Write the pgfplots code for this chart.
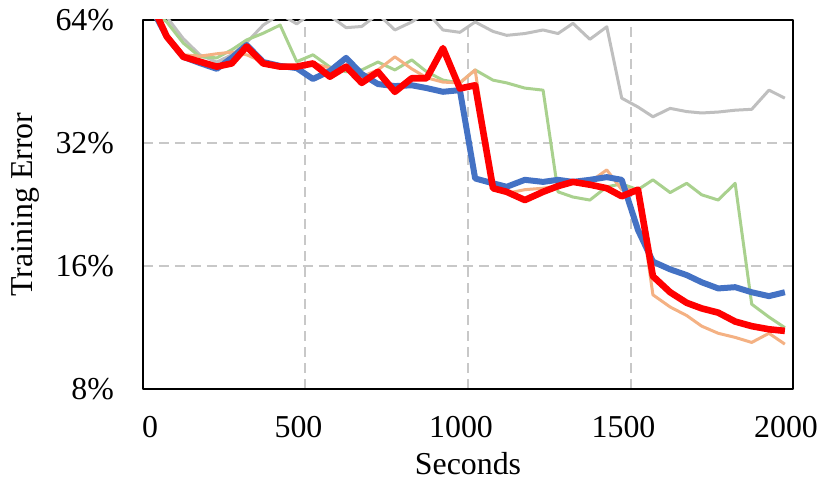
\documentclass[border=0pt]{standalone}
\usepackage{fontspec}
\setmainfont{Liberation Serif}
\usepackage{pgfplots}
\pgfplotsset{compat=1.18}
\usepackage{pgfplotstable}
\definecolor{cgray}{HTML}{BFBFBF}
\definecolor{cgreen}{HTML}{A9D18E}
\definecolor{corange}{HTML}{F4B183}
\definecolor{cblue}{HTML}{4472C4}
\definecolor{cred}{HTML}{FF0000}
\definecolor{cgrid}{HTML}{C8C8C8}
\pgfplotstableread{
x gray green orange blue red
0 85 70 72 75 78
73 65.1 63.3 58.5 58.3 58.3
124 57.6 56.2 52.6 52.0 52.0
175 52.6 52.0 52.2 50.2 50.6
227 50.5 51.7 52.9 48.6 49.2
273 52.6 54.1 53.4 51.7 50.1
319 56.4 57.2 52.6 55.6 55.1
370 62.2 59.4 50.5 50.5 50.1
422 66.2 62.2 49.7 49.4 49.2
473 62.6 50.6 49.4 48.8 49.2
523 67.0 52.6 50.2 45.9 50.1
575 65.5 49.1 48.8 48.0 46.5
625 61.3 47.8 49.2 51.7 49.2
673 61.7 48.3 46.5 47.2 44.9
723 66.2 50.5 48.3 44.6 47.8
775 60.5 48.3 52.0 44.1 42.7
827 63.3 51.1 48.6 44.3 46.1
873 67.0 47.8 46.2 43.6 46.1
923 60.5 45.6 45.1 42.7 54.6
975 59.7 44.9 44.9 43.1 43.5
1022 63.3 48.3 48.3 26.2 44.3
1077 60.0 45.6 24.6 25.5 24.8
1119 58.7 44.9 24.1 25.0 24.3
1175 59.3 43.6 24.6 26.0 23.2
1231 60.5 43.1 24.8 25.7 24.3
1277 59.3 24.3 25.1 26.0 25.1
1323 62.8 23.6 25.5 25.7 25.7
1375 57.4 23.2 25.7 26.0 25.3
1427 61.6 25.0 27.5 26.4 24.8
1473 41.2 25.4 24.6 26.0 23.7
1523 39.2 24.6 24.6 19.6 24.6
1569 37.1 26.0 13.6 16.4 15.1
1622 38.9 24.2 12.7 15.7 13.8
1673 38.2 25.5 12.1 15.2 13.0
1719 37.9 23.9 11.4 14.6 12.6
1770 38.1 23.2 10.95 14.1 12.3
1822 38.5 25.5 10.7 14.2 11.7
1873 38.7 12.9 10.4 13.8 11.4
1926 43.1 12.0 10.95 13.5 11.2
1975 41.2 11.3 10.3 13.8 11.1
}\data
\begin{document}
\begin{tikzpicture}
\path[use as bounding box] (-71.5bp,-45.5bp) rectangle (338bp,194.5bp);
\begin{axis}[
  scale only axis,
  width=325bp, height=184.5bp,
  at={(0,0)}, anchor=south west,
  xmin=0, xmax=2000,
  ymode=log, log basis y=2,
  ymin=8, ymax=64,
  xtick={0,500,1000,1500,2000},
  xticklabels={\hspace*{14bp}0,500,1000,1500,2000},
  ytick={8,16,32,64},
  yticklabels={8\%,16\%,32\%,64\%},
  major tick length=0pt,
  grid=major,
  major grid style={cgrid, line width=1bp, dash pattern=on 5bp off 3bp},
  axis line style={black, line width=1.2bp},
  tick label style={font=\fontsize{16}{19}\selectfont, black},
  xticklabel style={anchor=center, yshift=-19bp, xshift=-3.5bp},
  yticklabel style={anchor=east, xshift=-11bp},
  label style={font=\fontsize{16}{19}\selectfont},
  xlabel={Seconds},
  ylabel={Training Error},
  xlabel style={at={(rel axis cs:0.5,0)}, anchor=center, yshift=-37.5bp},
  ylabel style={at={(rel axis cs:-0.1815,0.5)}, anchor=center},
  line join=round,
]
\addplot[cgray, line width=1.5bp] table[x=x, y=gray] {\data};
\addplot[cgreen, line width=1.5bp] table[x=x, y=green] {\data};
\addplot[corange, line width=1.5bp] table[x=x, y=orange] {\data};
\addplot[cblue, line width=3bp] table[x=x, y=blue] {\data};
\addplot[cred, line width=3.3bp] table[x=x, y=red] {\data};
\end{axis}
\end{tikzpicture}
\end{document}
